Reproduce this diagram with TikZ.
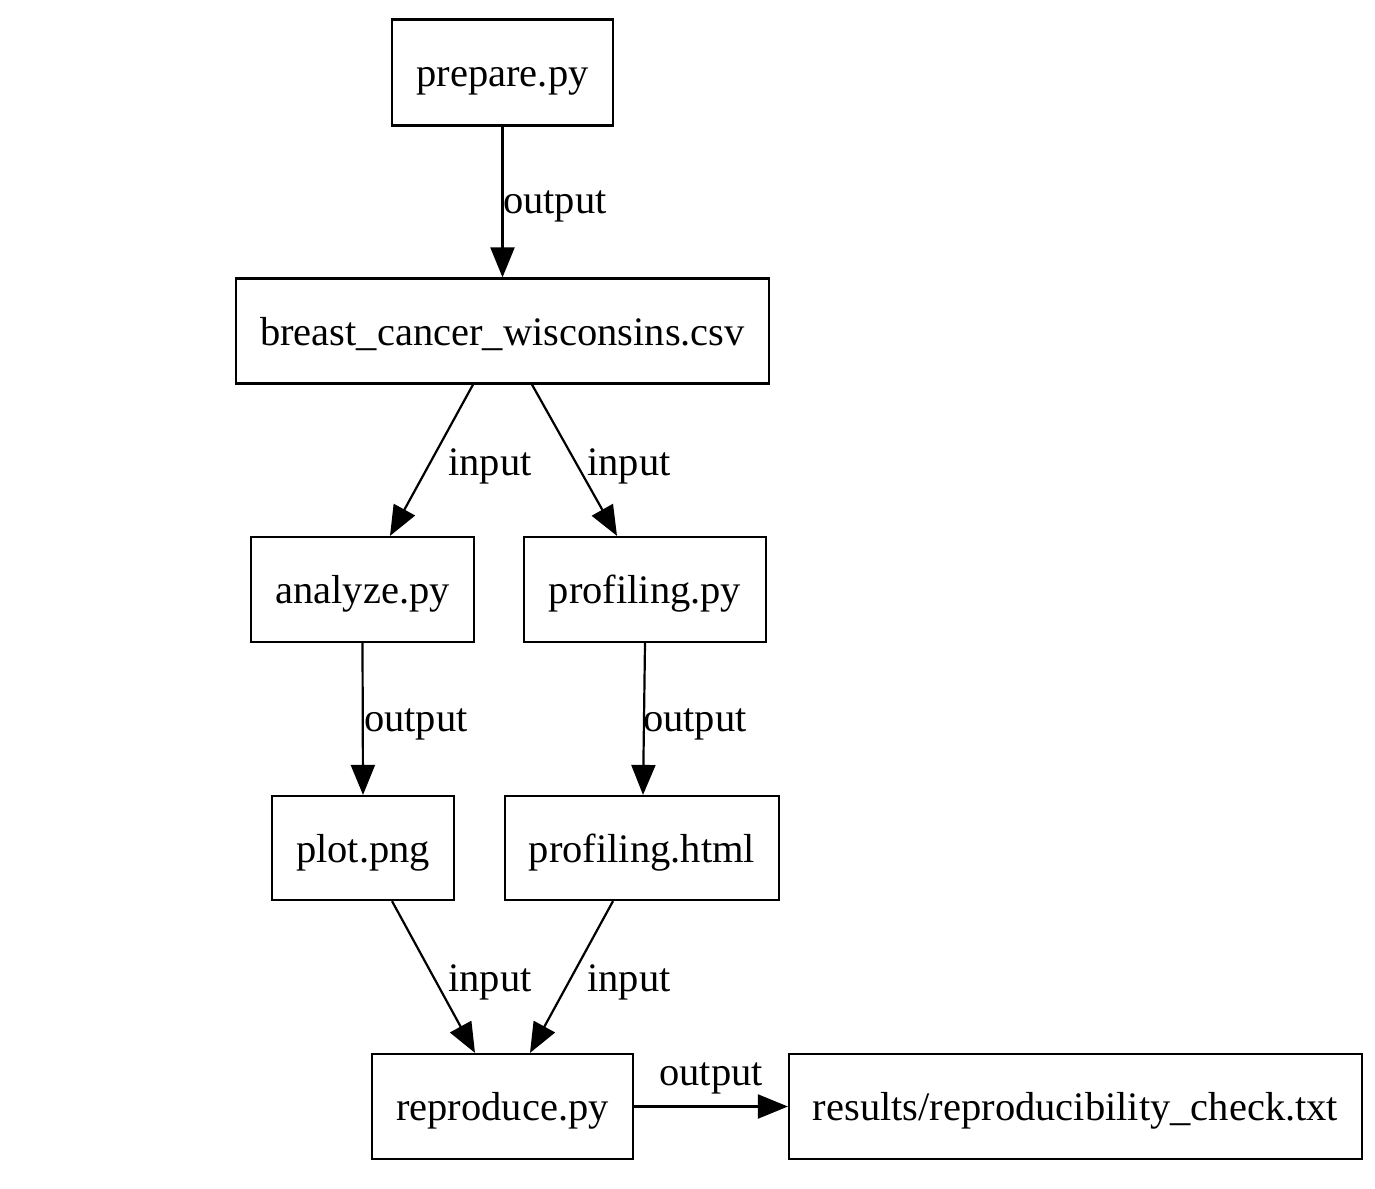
\documentclass[tikz,border=0pt]{standalone}
\usepackage{fontspec}
\setmainfont{Liberation Serif}
\usetikzlibrary{arrows.meta}
\tikzset{
  box/.style={draw, line width=2.2pt, inner sep=0pt, text height=37pt, text depth=9pt, font=\fontsize{40.5}{44}\selectfont},
  lbl/.style={font=\fontsize{40.5}{44}\selectfont, inner sep=0pt},
  conn/.style={line width=2.2pt, -{Triangle[length=30pt,width=24pt]}},
}
\begin{document}
\begin{tikzpicture}[x=1pt,y=-1pt]
\useasboundingbox (0,0) rectangle (1375,1188);
\node[box, minimum width=221pt, minimum height=106pt] (prep) at (502.5,72.5) {prepare.py};
\node[box, minimum width=533pt, minimum height=105pt] (csv) at (502.5,331) {breast\_cancer\_wisconsins.csv};
\node[box, minimum width=223pt, minimum height=105pt] (ana) at (362.5,589.5) {analyze.py};
\node[box, minimum width=242pt, minimum height=105pt] (prof) at (645,589.5) {profiling.py};
\node[box, minimum width=182pt, minimum height=104pt] (plot) at (363,848) {plot.png};
\node[box, minimum width=274pt, minimum height=104pt] (html) at (642,848) {profiling.html};
\node[box, minimum width=261pt, minimum height=105pt] (rep) at (502.5,1106.5) {reproduce.py};
\node[box, minimum width=573pt, minimum height=105pt] (res) at (1075.5,1106.5) {results/reproducibility\_check.txt};

\draw[conn] (prep.south) -- (csv.north);
\node[lbl, anchor=west] (l1) at (503,206) {output};
\draw[conn] ([xshift=-29.5pt]csv.south) -- ([xshift=27.5pt]ana.north);
\node[lbl] (l2) at (490,466) {input};
\draw[conn] ([xshift=29.5pt]csv.south) -- ([xshift=-28pt]prof.north);
\node[lbl] (l3) at (629,466) {input};
\draw[conn] (ana.south) -- (plot.north);
\node[lbl, anchor=west] (l4) at (364,724) {output};
\draw[conn] (prof.south) -- ([xshift=1pt]html.north);
\node[lbl, anchor=west] (l5) at (643,724) {output};
\draw[conn] ([xshift=29pt]plot.south) -- ([xshift=-27.5pt]rep.north);
\node[lbl] (l6) at (490,982) {input};
\draw[conn] ([xshift=-29pt]html.south) -- ([xshift=27.5pt]rep.north);
\node[lbl] (l7) at (629,982) {input};
\draw[conn] (rep.east) -- (res.west);
\node[lbl] (l8) at (711,1078) {output};
\end{tikzpicture}
\end{document}
